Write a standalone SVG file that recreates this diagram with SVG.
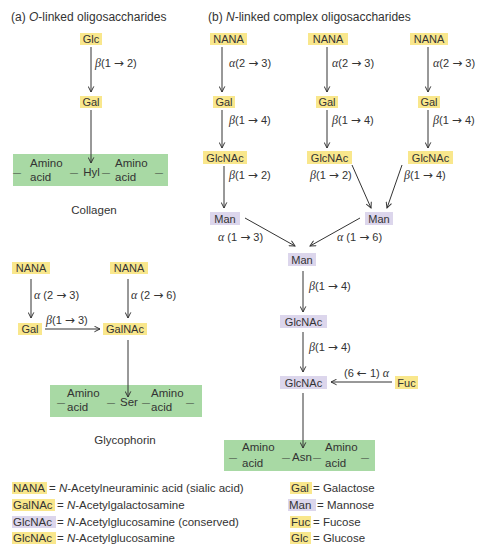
<svg xmlns="http://www.w3.org/2000/svg" width="479" height="545" viewBox="0 0 479 545">
<style>
text{font-family:"Liberation Sans",Arial,sans-serif;font-size:11px;fill:#333}
.c{text-anchor:middle}
.t{font-size:11.5px}
.h{font-size:12px}
.d{font-size:8px}
.g{font-family:"Liberation Serif","Times New Roman",serif;font-style:italic;font-size:12px}
.a{font-family:"DejaVu Sans",sans-serif;font-size:12px}
.i{font-style:italic}
.y{fill:#f9e78c}
.p{fill:#dcd6ec}
.gr{fill:#a8d9a4}
.ar{stroke:#333;stroke-width:1;fill:none;marker-end:url(#ah)}
</style>
<defs>
<marker id="ah" viewBox="0 0 10 10" refX="9" refY="5" markerWidth="7" markerHeight="7" orient="auto" markerUnits="userSpaceOnUse">
<path d="M1,1 L9,5 L1,9" fill="none" stroke="#333" stroke-width="1.4"/>
</marker>
</defs>
<rect width="479" height="545" fill="#fff"/>

<text class="h" x="11" y="21">(a)  <tspan class="i">O</tspan>-linked oligosaccharides</text>
<text class="h" x="208" y="21">(b)  <tspan class="i">N</tspan>-linked complex oligosaccharides</text>

<!-- (a) collagen -->
<g id="a-glc"><rect class="y" x="80" y="33" width="22" height="12"/><text class="c" x="91" y="43">Glc</text></g>
<g id="a-gal"><rect class="y" x="80" y="96" width="22" height="12"/><text class="c" x="91" y="106">Gal</text></g>
<g id="collagen">
<rect class="gr" x="13" y="154" width="155" height="32"/>
<text class="d" x="13" y="174.5">—</text>
<text class="t" x="30" y="167">Amino</text><text class="t" x="30" y="181">acid</text>
<text class="d" x="70" y="174.5">—</text>
<text class="t c" x="91.5" y="176">Hyl</text>
<text class="d" x="102" y="174.5">—</text>
<text class="t" x="115" y="167">Amino</text><text class="t" x="115" y="181">acid</text>
<text class="d" x="155" y="174.5">—</text>
</g>
<text class="c t" x="94" y="214">Collagen</text>

<!-- (a) glycophorin -->
<g id="g-nana1"><rect class="y" x="12" y="262" width="38" height="12"/><text class="c" x="31" y="272">NANA</text></g>
<g id="g-nana2"><rect class="y" x="110" y="262" width="38" height="12"/><text class="c" x="129" y="272">NANA</text></g>
<g id="g-gal"><rect class="y" x="18" y="323" width="24" height="12"/><text class="c" x="30" y="333">Gal</text></g>
<g id="g-galnac"><rect class="y" x="103" y="323" width="44" height="12"/><text class="c" x="125" y="333">GalNAc</text></g>
<g id="glycophorin">
<rect class="gr" x="50" y="385" width="152" height="32"/>
<text class="d" x="57" y="404.5">—</text>
<text class="t" x="67" y="397">Amino</text><text class="t" x="67" y="411">acid</text>
<text class="d" x="107" y="404.5">—</text>
<text class="t c" x="129" y="406">Ser</text>
<text class="d" x="142" y="404.5">—</text>
<text class="t" x="151" y="397">Amino</text><text class="t" x="151" y="411">acid</text>
<text class="d" x="186" y="404.5">—</text>
</g>
<text class="c t" x="125" y="444">Glycophorin</text>

<!-- (b) -->
<g id="b-nana1"><rect class="y" x="210" y="33" width="37" height="12"/><text class="c" x="228.5" y="43">NANA</text></g>
<g id="b-nana2"><rect class="y" x="308" y="33" width="40" height="12"/><text class="c" x="328" y="43">NANA</text></g>
<g id="b-nana3"><rect class="y" x="410" y="33" width="38" height="12"/><text class="c" x="429" y="43">NANA</text></g>
<g id="b-gal1"><rect class="y" x="213" y="96" width="22" height="12"/><text class="c" x="224" y="106">Gal</text></g>
<g id="b-gal2"><rect class="y" x="316" y="96" width="22" height="12"/><text class="c" x="327" y="106">Gal</text></g>
<g id="b-gal3"><rect class="y" x="418" y="96" width="22" height="12"/><text class="c" x="429" y="106">Gal</text></g>
<g id="b-glcnac1"><rect class="y" x="203" y="151" width="44" height="13"/><text class="c" x="225" y="161.5">GlcNAc</text></g>
<g id="b-glcnac2"><rect class="y" x="307" y="151" width="45" height="13"/><text class="c" x="329.5" y="161.5">GlcNAc</text></g>
<g id="b-glcnac3"><rect class="y" x="408" y="151" width="45" height="13"/><text class="c" x="430.5" y="161.5">GlcNAc</text></g>
<g id="b-man1"><rect class="p" x="210" y="212" width="30" height="13"/><text class="c" x="225" y="222.5">Man</text></g>
<g id="b-man2"><rect class="p" x="365" y="212" width="28" height="13"/><text class="c" x="379" y="222.5">Man</text></g>
<g id="b-man3"><rect class="p" x="288" y="253" width="28" height="13"/><text class="c" x="302" y="263.5">Man</text></g>
<g id="b-glcnac4"><rect class="p" x="280" y="315" width="47" height="13"/><text class="c" x="303.5" y="325.5">GlcNAc</text></g>
<g id="b-glcnac5"><rect class="p" x="280" y="376" width="47" height="13"/><text class="c" x="303.5" y="386.5">GlcNAc</text></g>
<g id="b-fuc"><rect class="y" x="395" y="376" width="23" height="13"/><text class="c" x="406.5" y="386.5">Fuc</text></g>
<g id="asn">
<rect class="gr" x="224" y="440" width="151" height="31"/>
<text class="d" x="229" y="459.5">—</text>
<text class="t" x="242" y="451">Amino</text><text class="t" x="242" y="467">acid</text>
<text class="d" x="282" y="459.5">—</text>
<text class="t c" x="302" y="461">Asn</text>
<text class="d" x="313" y="459.5">—</text>
<text class="t" x="325" y="451">Amino</text><text class="t" x="325" y="467">acid</text>
<text class="d" x="361" y="459.5">—</text>
</g>

<!-- connectors -->
<g id="connectors">
<line class="ar" x1="91" y1="47" x2="91" y2="92"/>
<line class="ar" x1="91" y1="110" x2="91" y2="163"/>
<line class="ar" x1="31" y1="279" x2="31" y2="318"/>
<line class="ar" x1="128" y1="279" x2="128" y2="318"/>
<line class="ar" x1="45" y1="329" x2="100" y2="329"/>
<line class="ar" x1="128" y1="340" x2="128" y2="397"/>
<line class="ar" x1="222" y1="47" x2="222" y2="92"/>
<line class="ar" x1="327" y1="47" x2="327" y2="92"/>
<line class="ar" x1="428" y1="47" x2="428" y2="92"/>
<line class="ar" x1="222" y1="110" x2="222" y2="148"/>
<line class="ar" x1="327" y1="110" x2="327" y2="148"/>
<line class="ar" x1="428" y1="110" x2="428" y2="148"/>
<line class="ar" x1="224" y1="166" x2="224" y2="208"/>
<line class="ar" x1="352" y1="165" x2="371" y2="208"/>
<line class="ar" x1="402" y1="165" x2="387" y2="208"/>
<line class="ar" x1="245" y1="218" x2="295" y2="246"/>
<line class="ar" x1="360" y1="218" x2="310" y2="246"/>
<line class="ar" x1="303" y1="271" x2="303" y2="312"/>
<line class="ar" x1="303" y1="332" x2="303" y2="372"/>
<line class="ar" x1="392" y1="382" x2="331" y2="382"/>
<line class="ar" x1="303" y1="393" x2="303" y2="448"/>
</g>

<!-- linkage labels -->
<text x="95" y="67"><tspan class="g">β</tspan>(1 <tspan class="a">→</tspan> 2)</text>
<text x="34" y="299"><tspan class="g">α</tspan> (2 <tspan class="a">→</tspan> 3)</text>
<text x="131" y="299"><tspan class="g">α</tspan> (2 <tspan class="a">→</tspan> 6)</text>
<text x="46" y="324"><tspan class="g">β</tspan>(1 <tspan class="a">→</tspan> 3)</text>
<text x="229" y="67"><tspan class="g">α</tspan>(2 <tspan class="a">→</tspan> 3)</text>
<text x="332" y="67"><tspan class="g">α</tspan>(2 <tspan class="a">→</tspan> 3)</text>
<text x="433" y="67"><tspan class="g">α</tspan>(2 <tspan class="a">→</tspan> 3)</text>
<text x="229" y="124"><tspan class="g">β</tspan>(1 <tspan class="a">→</tspan> 4)</text>
<text x="332" y="124"><tspan class="g">β</tspan>(1 <tspan class="a">→</tspan> 4)</text>
<text x="433" y="124"><tspan class="g">β</tspan>(1 <tspan class="a">→</tspan> 4)</text>
<text x="229" y="179"><tspan class="g">β</tspan>(1 <tspan class="a">→</tspan> 2)</text>
<text x="310" y="179"><tspan class="g">β</tspan>(1 <tspan class="a">→</tspan> 2)</text>
<text x="404" y="179"><tspan class="g">β</tspan>(1 <tspan class="a">→</tspan> 4)</text>
<text x="218" y="241"><tspan class="g">α</tspan> (1 <tspan class="a">→</tspan> 3)</text>
<text x="337" y="241"><tspan class="g">α</tspan> (1 <tspan class="a">→</tspan> 6)</text>
<text x="309" y="290"><tspan class="g">β</tspan>(1 <tspan class="a">→</tspan> 4)</text>
<text x="309" y="351"><tspan class="g">β</tspan>(1 <tspan class="a">→</tspan> 4)</text>
<text x="344" y="377">(6 <tspan class="a">←</tspan> 1) <tspan class="g">α</tspan></text>

<!-- legend -->
<g id="legend">
<rect class="y" x="12" y="482" width="35" height="12"/><text class="t" x="13" y="492">NANA</text><text class="t" x="49" y="492">= <tspan class="i">N</tspan>-Acetylneuraminic acid (sialic acid)</text>
<rect class="y" x="12" y="499" width="43" height="12"/><text class="t" x="13" y="509">GalNAc</text><text class="t" x="57" y="509">= <tspan class="i">N</tspan>-Acetylgalactosamine</text>
<rect class="p" x="12" y="516" width="44" height="12"/><text class="t" x="13" y="526">GlcNAc</text><text class="t" x="57" y="526">= <tspan class="i">N</tspan>-Acetylglucosamine (conserved)</text>
<rect class="y" x="12" y="532" width="44" height="12"/><text class="t" x="13" y="542">GlcNAc</text><text class="t" x="57" y="542">= <tspan class="i">N</tspan>-Acetylglucosamine</text>
<rect class="y" x="290" y="482" width="22" height="12"/><text class="t" x="291" y="492">Gal</text><text class="t" x="313" y="492">= Galactose</text>
<rect class="p" x="288" y="499" width="28" height="12"/><text class="t" x="289" y="509">Man</text><text class="t" x="317" y="509">= Mannose</text>
<rect class="y" x="290" y="516" width="21" height="12"/><text class="t" x="291" y="526">Fuc</text><text class="t" x="313" y="526">= Fucose</text>
<rect class="y" x="290" y="532" width="21" height="12"/><text class="t" x="291" y="542">Glc</text><text class="t" x="313" y="542">= Glucose</text>
</g>
</svg>
